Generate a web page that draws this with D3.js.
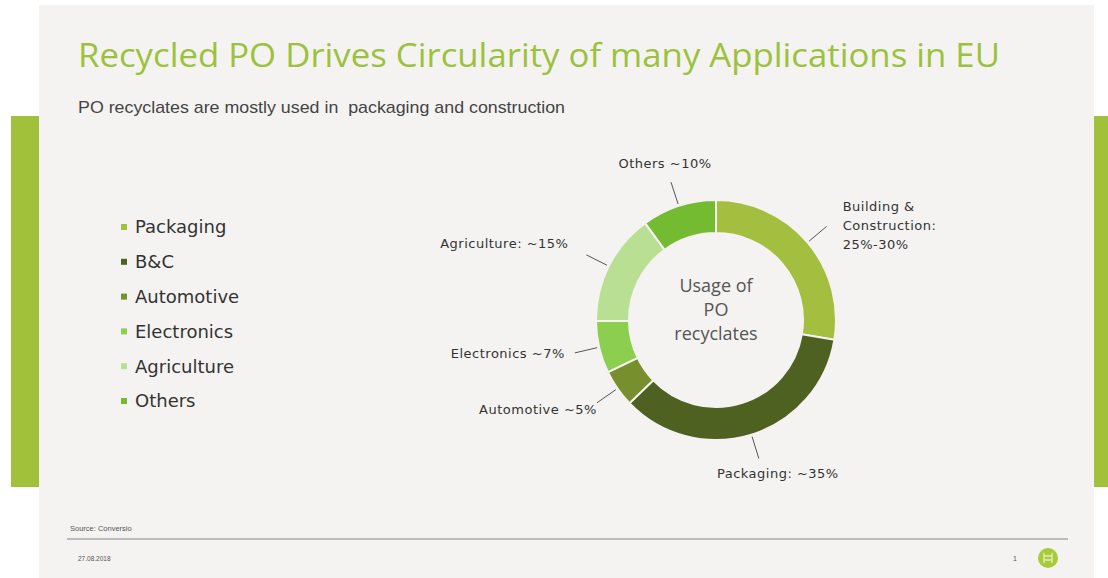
<!DOCTYPE html>
<html>
<head>
<meta charset="utf-8">
<script src="https://cdn.jsdelivr.net/npm/d3@7"></script>
<style>
  html, body { margin: 0; padding: 0; background: #ffffff; }
  svg { display: block; }
</style>
</head>
<body>
<div id="chart"></div>
<script>
// legend entries (as shown on the slide, left side)
var legendNames = ["Packaging", "B&C", "Automotive", "Electronics", "Agriculture", "Others"];
var colors = ["#a4bf40", "#4e6121", "#778f2d", "#8ccf4e", "#b9df93", "#75bb32"];

// donut segments, clockwise from 12 o'clock (same colour order as legend)
var segmentNames = ["Building & Construction", "Packaging", "Automotive", "Electronics", "Agriculture", "Others"];
var segmentValues = [27.5, 35, 5, 7, 15, 10];
var segmentLabels = [
  ["Building &", "Construction:", "25%-30%"],
  ["Packaging: ~35%"],
  ["Automotive ~5%"],
  ["Electronics ~7%"],
  ["Agriculture: ~15%"],
  ["Others ~10%"]
];

var title = "Recycled PO Drives Circularity of many Applications in EU";
var subtitle = "PO recyclates are mostly used in  packaging and construction";
var centerText = ["Usage of", "PO", "recyclates"];
var source = "Source: Conversio";
var dateText = "27.08.2018";
var pageNo = "1";

var W = 1108, H = 578;
var green = "#a2c13a";

var svg = d3.select("#chart").append("svg")
  .attr("width", W)
  .attr("height", H);

// slide background + side bars
svg.append("rect").attr("x", 39).attr("y", 5).attr("width", 1055).attr("height", H - 5).attr("fill", "#f4f3f1");
svg.append("rect").attr("x", 11).attr("y", 116).attr("width", 28).attr("height", 371).attr("fill", green);
svg.append("rect").attr("x", 1094).attr("y", 116).attr("width", 14).attr("height", 371).attr("fill", green);

// title and subtitle
svg.append("text")
  .attr("x", 78).attr("y", 67)
  .attr("textLength", 922).attr("lengthAdjust", "spacingAndGlyphs")
  .style("font-family", "'Open Sans', 'Noto Sans', sans-serif")
  .style("font-size", "33px")
  .attr("fill", "#9cc23d")
  .text(title);

svg.append("text")
  .attr("x", 78).attr("y", 113)
  .attr("textLength", 487).attr("lengthAdjust", "spacingAndGlyphs")
  .style("font-family", "'Liberation Sans', Arial, sans-serif")
  .style("font-size", "17px")
  .style("white-space", "pre")
  .attr("fill", "#444")
  .text(subtitle);

// legend
var legendY = d3.scalePoint().domain(legendNames).range([227, 401]);
var legend = svg.append("g").attr("class", "legend");
var items = legend.selectAll(".item").data(legendNames).enter().append("g")
  .attr("class", "item")
  .attr("transform", function (d) { return "translate(121," + legendY(d) + ")"; });
items.append("rect")
  .attr("x", 0).attr("y", -3).attr("width", 6).attr("height", 6)
  .attr("fill", function (d, i) { return colors[i]; });
items.append("text")
  .attr("x", 14).attr("dy", "0.36em")
  .style("font-family", "'DejaVu Sans', sans-serif")
  .style("font-size", "18px")
  .attr("fill", "#333")
  .text(function (d) { return d; });

// donut
var cx = 716, cy = 320, outerR = 120, innerR = 87;
var g = svg.append("g").attr("transform", "translate(" + cx + "," + cy + ")");

var pie = d3.pie().sort(null).value(function (d) { return d; });
var arcs = pie(segmentValues);
var arc = d3.arc().innerRadius(innerR).outerRadius(outerR);

g.selectAll(".slice").data(arcs).enter().append("path")
  .attr("class", "slice")
  .attr("d", arc)
  .attr("fill", function (d, i) { return colors[i]; })
  .attr("stroke", "#f4f3f1")
  .attr("stroke-width", 2);

// leader lines + labels
var leadIn = d3.arc().innerRadius(122).outerRadius(122);
var leadOut = d3.arc().innerRadius(145).outerRadius(145);
// label placement relative to leader end: [dx, dy, anchor]
var labelPlace = [
  [16, -20, "start"],
  [19, 15, "middle"],
  [0, 7, "end"],
  [-10, 1, "end"],
  [-18, -11, "end"],
  [-6, -19, "middle"]
];

arcs.forEach(function (d, i) {
  var p0 = leadIn.centroid(d), p1 = leadOut.centroid(d);
  g.append("line")
    .attr("x1", p0[0]).attr("y1", p0[1])
    .attr("x2", p1[0]).attr("y2", p1[1])
    .attr("stroke", "#555").attr("stroke-width", 1);
  var lp = labelPlace[i];
  var t = g.append("text")
    .attr("x", p1[0] + lp[0]).attr("y", p1[1] + lp[1])
    .attr("text-anchor", lp[2])
    .style("font-family", "'DejaVu Sans', sans-serif")
    .style("font-size", "13px")
    .style("letter-spacing", "0.5px")
    .attr("fill", "#333");
  segmentLabels[i].forEach(function (line, j) {
    t.append("tspan")
      .attr("x", p1[0] + lp[0])
      .attr("dy", j === 0 ? "0.35em" : "1.48em")
      .text(line);
  });
});

// centre text
var ct = g.append("text")
  .attr("text-anchor", "middle")
  .attr("y", -34)
  .style("font-family", "'Open Sans', 'Noto Sans', sans-serif")
  .style("font-size", "18px")
  .attr("fill", "#555");
centerText.forEach(function (line, j) {
  ct.append("tspan").attr("x", 0).attr("dy", j === 0 ? "0.35em" : "1.33em").text(line);
});

// footer
svg.append("text")
  .attr("x", 70).attr("y", 531)
  .style("font-family", "'Liberation Sans', sans-serif")
  .style("font-size", "7.5px")
  .attr("fill", "#555")
  .text(source);
svg.append("line")
  .attr("x1", 67).attr("x2", 1068).attr("y1", 539).attr("y2", 539)
  .attr("stroke", "#aaa").attr("stroke-width", 1.5);
svg.append("text")
  .attr("x", 78).attr("y", 561)
  .style("font-family", "'Liberation Sans', sans-serif")
  .style("font-size", "6.5px")
  .attr("fill", "#555")
  .text(dateText);
svg.append("text")
  .attr("x", 1015).attr("y", 561)
  .attr("text-anchor", "middle")
  .style("font-family", "'Liberation Sans', sans-serif")
  .style("font-size", "7px")
  .attr("fill", "#555")
  .text(pageNo);

// logo
var logo = svg.append("g").attr("transform", "translate(1048,558)");
logo.append("circle").attr("r", 10).attr("fill", "#a7cb3a");
logo.append("path")
  .attr("d", "M-4,-5V5M4,-5V5M-4,-2H4M-4,2H4")
  .attr("stroke", "#e2efb5").attr("stroke-width", 1.4).attr("fill", "none");
</script>
</body>
</html>
